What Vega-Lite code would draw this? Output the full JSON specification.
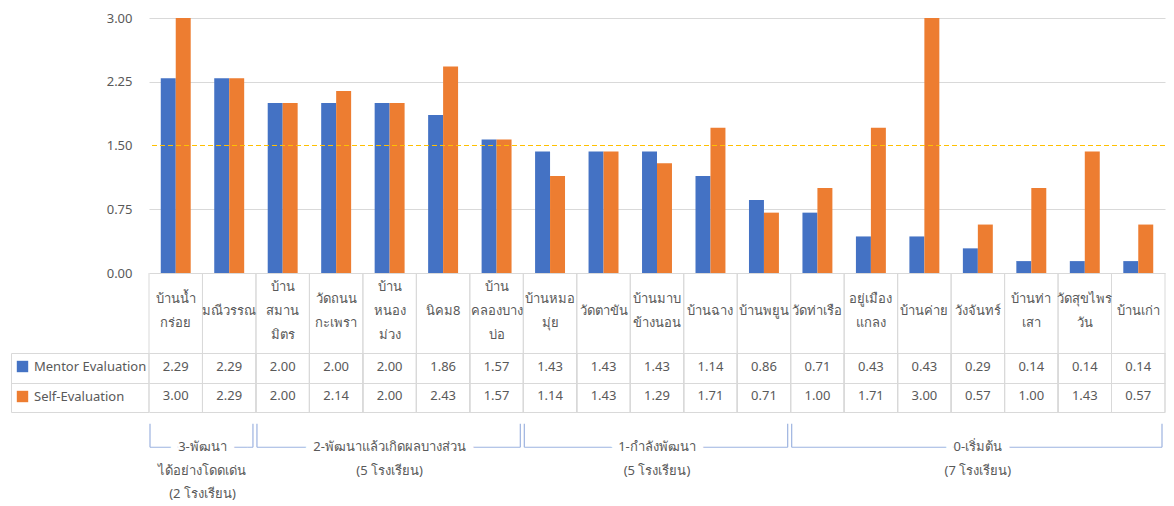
{
  "$schema": "https://vega.github.io/schema/vega-lite/v6.json",
  "padding": {"left": 10, "top": 12, "right": 0, "bottom": 0},
  "spacing": 0,
  "bounds": "flush",
  "config": {
    "view": {"stroke": null},
    "font": "Noto Sans",
    "text": {"fontSize": 13, "color": "#595959"}
  },
  "datasets": {
    "scores": [
      {"school": "บ้านน้ำ\nกร่อย", "series": "Mentor Evaluation", "value": 2.29},
      {"school": "บ้านน้ำ\nกร่อย", "series": "Self-Evaluation", "value": 3.00},
      {"school": "มณีวรรณ", "series": "Mentor Evaluation", "value": 2.29},
      {"school": "มณีวรรณ", "series": "Self-Evaluation", "value": 2.29},
      {"school": "บ้าน\nสมาน\nมิตร", "series": "Mentor Evaluation", "value": 2.00},
      {"school": "บ้าน\nสมาน\nมิตร", "series": "Self-Evaluation", "value": 2.00},
      {"school": "วัดถนน\nกะเพรา", "series": "Mentor Evaluation", "value": 2.00},
      {"school": "วัดถนน\nกะเพรา", "series": "Self-Evaluation", "value": 2.14},
      {"school": "บ้าน\nหนอง\nม่วง", "series": "Mentor Evaluation", "value": 2.00},
      {"school": "บ้าน\nหนอง\nม่วง", "series": "Self-Evaluation", "value": 2.00},
      {"school": "นิคม8", "series": "Mentor Evaluation", "value": 1.86},
      {"school": "นิคม8", "series": "Self-Evaluation", "value": 2.43},
      {"school": "บ้าน\nคลองบาง\nบ่อ", "series": "Mentor Evaluation", "value": 1.57},
      {"school": "บ้าน\nคลองบาง\nบ่อ", "series": "Self-Evaluation", "value": 1.57},
      {"school": "บ้านหมอ\nมุ่ย", "series": "Mentor Evaluation", "value": 1.43},
      {"school": "บ้านหมอ\nมุ่ย", "series": "Self-Evaluation", "value": 1.14},
      {"school": "วัดตาขัน", "series": "Mentor Evaluation", "value": 1.43},
      {"school": "วัดตาขัน", "series": "Self-Evaluation", "value": 1.43},
      {"school": "บ้านมาบ\nข้างนอน", "series": "Mentor Evaluation", "value": 1.43},
      {"school": "บ้านมาบ\nข้างนอน", "series": "Self-Evaluation", "value": 1.29},
      {"school": "บ้านฉาง", "series": "Mentor Evaluation", "value": 1.14},
      {"school": "บ้านฉาง", "series": "Self-Evaluation", "value": 1.71},
      {"school": "บ้านพยูน", "series": "Mentor Evaluation", "value": 0.86},
      {"school": "บ้านพยูน", "series": "Self-Evaluation", "value": 0.71},
      {"school": "วัดท่าเรือ", "series": "Mentor Evaluation", "value": 0.71},
      {"school": "วัดท่าเรือ", "series": "Self-Evaluation", "value": 1.00},
      {"school": "อยู่เมือง\nแกลง", "series": "Mentor Evaluation", "value": 0.43},
      {"school": "อยู่เมือง\nแกลง", "series": "Self-Evaluation", "value": 1.71},
      {"school": "บ้านค่าย", "series": "Mentor Evaluation", "value": 0.43},
      {"school": "บ้านค่าย", "series": "Self-Evaluation", "value": 3.00},
      {"school": "วังจันทร์", "series": "Mentor Evaluation", "value": 0.29},
      {"school": "วังจันทร์", "series": "Self-Evaluation", "value": 0.57},
      {"school": "บ้านท่า\nเสา", "series": "Mentor Evaluation", "value": 0.14},
      {"school": "บ้านท่า\nเสา", "series": "Self-Evaluation", "value": 1.00},
      {"school": "วัดสุขไพร\nวัน", "series": "Mentor Evaluation", "value": 0.14},
      {"school": "วัดสุขไพร\nวัน", "series": "Self-Evaluation", "value": 1.43},
      {"school": "บ้านเก่า", "series": "Mentor Evaluation", "value": 0.14},
      {"school": "บ้านเก่า", "series": "Self-Evaluation", "value": 0.57}
    ],
    "groups": [
      {"group": "3", "from": 0, "to": 2},
      {"group": "2", "from": 2, "to": 7},
      {"group": "1", "from": 7, "to": 12},
      {"group": "0", "from": 12, "to": 19}
    ],
    "grouplabels": [
      {"group": "3", "line": "l1", "text": "3-พัฒนา"},
      {"group": "3", "line": "l2", "text": "ได้อย่างโดดเด่น"},
      {"group": "3", "line": "l3", "text": "(2 โรงเรียน)"},
      {"group": "2", "line": "l1", "text": "2-พัฒนาแล้วเกิดผลบางส่วน"},
      {"group": "2", "line": "l2", "text": "(5 โรงเรียน)"},
      {"group": "1", "line": "l1", "text": "1-กำลังพัฒนา"},
      {"group": "1", "line": "l2", "text": "(5 โรงเรียน)"},
      {"group": "0", "line": "l1", "text": "0-เริ่มต้น"},
      {"group": "0", "line": "l2", "text": "(7 โรงเรียน)"}
    ]
  },
  "resolve": {"scale": {"x": "independent", "y": "independent"}},
  "vconcat": [
    {
      "width": 1016,
      "height": 255,
      "data": {"name": "scores"},
      "layer": [
        {
          "mark": {"type": "bar"},
          "encoding": {
            "x": {"field": "school", "type": "nominal", "sort": null, "scale": {"paddingInner": 0.44, "paddingOuter": 0.22}, "axis": null},
            "xOffset": {"field": "series", "type": "nominal"},
            "y": {
              "field": "value", "type": "quantitative",
              "scale": {"domain": [0, 3]},
              "axis": {"values": [0, 0.75, 1.5, 2.25, 3], "format": ".2f", "grid": true, "gridColor": {"condition": {"test": "datum.value === 1.5", "value": "transparent"}, "value": "#D9D9D9"}, "domain": false, "ticks": false, "labelPadding": 17, "labelColor": "#595959", "labelFontSize": 13, "title": null}
            },
            "color": {
              "field": "series", "type": "nominal",
              "scale": {"domain": ["Mentor Evaluation", "Self-Evaluation"], "range": ["#4472C4", "#ED7D31"]},
              "legend": {"orient": "none", "legendX": -133, "legendY": 342, "title": null, "direction": "vertical", "symbolType": "square", "symbolSize": 130, "symbolStrokeWidth": 0, "labelFontSize": 13, "labelColor": "#595959", "labelOffset": 5, "rowPadding": 16, "padding": 0}
            }
          }
        },
        {
          "mark": {"type": "rule", "color": "#FFC000", "strokeDash": [5, 3], "strokeWidth": 1.2, "x2Offset": 10, "zindex": 2},
          "encoding": {"y": {"datum": 1.5}}
        }
      ]
    },
    {
      "width": 1016,
      "height": 80,
      "data": {"name": "scores"},
      "transform": [
        {"filter": "datum.series === 'Mentor Evaluation'"},
        {"calculate": "length(split(datum.school, '\\n'))", "as": "nlines"}
      ],
      "encoding": {
        "x": {"field": "school", "type": "nominal", "sort": null, "scale": {"padding": 0}, "axis": null}
      },
      "layer": [
        {"mark": {"type": "rule", "color": "#D9D9D9"}, "encoding": {"x": {"field": "school", "type": "nominal", "sort": null, "bandPosition": 0}}},
        {"mark": {"type": "rule", "color": "#D9D9D9"}, "encoding": {"x": {"field": "school", "type": "nominal", "sort": null, "bandPosition": 1}}},
        {"transform": [{"filter": "datum.nlines === 1"}], "mark": {"type": "text", "lineBreak": "\n", "lineHeight": 24, "baseline": "middle", "align": "center", "dy": -2}, "encoding": {"text": {"field": "school"}}},
        {"transform": [{"filter": "datum.nlines === 2"}], "mark": {"type": "text", "lineBreak": "\n", "lineHeight": 24, "baseline": "middle", "align": "center", "dy": -14}, "encoding": {"text": {"field": "school"}}},
        {"transform": [{"filter": "datum.nlines === 3"}], "mark": {"type": "text", "lineBreak": "\n", "lineHeight": 24, "baseline": "middle", "align": "center", "dy": -26}, "encoding": {"text": {"field": "school"}}}
      ]
    },
    {
      "width": 1016,
      "height": 59,
      "data": {"name": "scores"},
      "encoding": {
        "x": {"field": "school", "type": "nominal", "sort": null, "scale": {"padding": 0}, "axis": null},
        "y": {
          "field": "series", "type": "nominal",
          "scale": {"domain": ["Mentor Evaluation", "Self-Evaluation"], "padding": 0},
          "axis": {"title": null, "labels": false, "offset": 138, "tickBand": "extent", "ticks": true, "tickSize": -138, "tickColor": "#D9D9D9", "grid": true, "gridColor": "#D9D9D9", "domain": true, "domainColor": "#D9D9D9"}
        }
      },
      "layer": [
        {"mark": {"type": "rule", "color": "#D9D9D9"}, "encoding": {"x": {"field": "school", "type": "nominal", "sort": null, "bandPosition": 0}, "y": null}},
        {"mark": {"type": "rule", "color": "#D9D9D9"}, "encoding": {"x": {"field": "school", "type": "nominal", "sort": null, "bandPosition": 1}, "y": null}},
        {"mark": {"type": "text", "baseline": "middle", "align": "center", "dy": -1}, "encoding": {"text": {"field": "value", "type": "quantitative", "format": ".2f"}}}
      ]
    },
    {
      "width": 1016,
      "height": 94,
      "data": {"name": "groups"},
      "layer": [
        {
          "mark": {"type": "rule", "color": "#9DB3E0", "strokeWidth": 1.2, "xOffset": 1},
          "encoding": {
            "x": {"field": "from", "type": "quantitative", "scale": {"domain": [0, 19], "nice": false, "zero": false}, "axis": null},
            "y": {"datum": "top", "type": "nominal", "scale": {"domain": ["top", "l1", "l2", "l3"], "padding": 0}, "axis": null},
            "y2": {"datum": "l1"}
          }
        },
        {
          "mark": {"type": "rule", "color": "#9DB3E0", "strokeWidth": 1.2, "xOffset": -3},
          "encoding": {
            "x": {"field": "to", "type": "quantitative"},
            "y": {"datum": "top", "type": "nominal"},
            "y2": {"datum": "l1"}
          }
        },
        {
          "mark": {"type": "rule", "color": "#9DB3E0", "strokeWidth": 1.2, "xOffset": 1, "x2Offset": -3},
          "encoding": {
            "x": {"field": "from", "type": "quantitative"},
            "x2": {"field": "to"},
            "y": {"datum": "l1", "type": "nominal"}
          }
        },
        {
          "data": {"name": "grouplabels"},
          "transform": [
            {"lookup": "group", "from": {"data": {"name": "groups"}, "key": "group", "fields": ["from", "to"]}},
            {"calculate": "(datum.from + datum.to) / 2", "as": "mid"}
          ],
          "mark": {"type": "text", "baseline": "middle", "align": "center", "fill": "white", "stroke": "white", "strokeWidth": 16},
          "encoding": {
            "x": {"field": "mid", "type": "quantitative"},
            "y": {"field": "line", "type": "nominal"},
            "text": {"field": "text"}
          }
        },
        {
          "data": {"name": "grouplabels"},
          "transform": [
            {"lookup": "group", "from": {"data": {"name": "groups"}, "key": "group", "fields": ["from", "to"]}},
            {"calculate": "(datum.from + datum.to) / 2", "as": "mid"}
          ],
          "mark": {"type": "text", "baseline": "middle", "align": "center"},
          "encoding": {
            "x": {"field": "mid", "type": "quantitative"},
            "y": {"field": "line", "type": "nominal"},
            "text": {"field": "text"}
          }
        }
      ]
    }
  ]
}
